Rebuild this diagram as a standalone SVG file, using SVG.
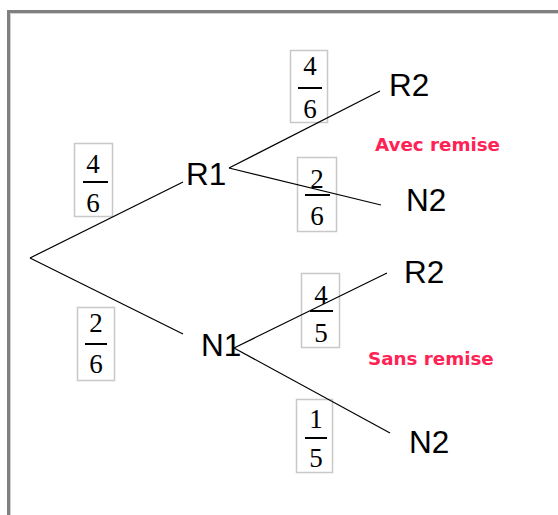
<svg xmlns="http://www.w3.org/2000/svg" width="558" height="515" viewBox="0 0 558 515">
<style>
.lbl{font-family:"Liberation Sans",Arial,sans-serif;font-size:31.5px;fill:#000}
.num{font-family:"Liberation Serif","Times New Roman",serif;font-size:27px;fill:#000;text-anchor:middle}
.box{fill:none;stroke:#c8c8c8;stroke-width:1.5}
.bar{stroke:#000;stroke-width:2}
.note{font-family:"DejaVu Sans",Verdana,sans-serif;font-weight:bold;font-size:18.3px;fill:#ff2255}
.edge{stroke:#000;stroke-width:1.2;fill:none}
</style>
<rect width="558" height="515" fill="#fff"/>
<g id="frame">
<rect x="7" y="10" width="551" height="3" fill="#808080"/>
<rect x="7" y="10" width="3" height="505" fill="#808080"/>
<rect x="10" y="13" width="548" height="1" fill="#d0d0d0"/>
<rect x="10" y="13" width="1" height="502" fill="#d0d0d0"/>
</g>
<g id="p-R1">
<rect class="box" x="74.5" y="143.5" width="38" height="73"/>
<text class="num" x="93" y="173">4</text>
<line class="bar" x1="83" y1="182" x2="108" y2="182"/>
<text class="num" x="93" y="212">6</text>
</g>
<g id="p-N1">
<rect class="box" x="77.5" y="307.5" width="37" height="73"/>
<text class="num" x="96" y="332">2</text>
<line class="bar" x1="85" y1="344" x2="107" y2="344"/>
<text class="num" x="96" y="373">6</text>
</g>
<g id="p-R1R2">
<rect class="box" x="290.5" y="50.5" width="37" height="72"/>
<text class="num" x="310" y="75">4</text>
<line class="bar" x1="298" y1="88" x2="322" y2="88"/>
<text class="num" x="310" y="118">6</text>
</g>
<g id="p-R1N2">
<rect class="box" x="297.5" y="157.5" width="39" height="74"/>
<text class="num" x="317" y="188">2</text>
<line class="bar" x1="305" y1="195" x2="330" y2="195"/>
<text class="num" x="317" y="225">6</text>
</g>
<g id="p-N1R2">
<rect class="box" x="301.5" y="273.5" width="38" height="74"/>
<text class="num" x="321" y="304">4</text>
<line class="bar" x1="310" y1="311" x2="333" y2="311"/>
<text class="num" x="321" y="342">5</text>
</g>
<g id="p-N1N2">
<rect class="box" x="296.5" y="399.5" width="36" height="73"/>
<text class="num" x="316" y="428">1</text>
<line class="bar" x1="305" y1="438" x2="327" y2="438"/>
<text class="num" x="316" y="467">5</text>
</g>
<g id="connectors">
<line class="edge" x1="30" y1="258" x2="183" y2="182"/>
<line class="edge" x1="30" y1="258" x2="183" y2="334"/>
<line class="edge" x1="229" y1="168" x2="380" y2="91"/>
<line class="edge" x1="229" y1="168" x2="381" y2="205"/>
<line class="edge" x1="234" y1="348" x2="387" y2="273"/>
<line class="edge" x1="234" y1="348" x2="390" y2="433"/>
</g>
<g id="R1"><text class="lbl" x="186" y="185">R1</text></g>
<g id="N1"><text class="lbl" x="201" y="356">N1</text></g>
<g id="R2a"><text class="lbl" x="389" y="96">R2</text></g>
<g id="N2a"><text class="lbl" x="406" y="211">N2</text></g>
<g id="R2b"><text class="lbl" x="404" y="283">R2</text></g>
<g id="N2b"><text class="lbl" x="409" y="453">N2</text></g>
<g id="avec"><text class="note" x="375" y="151">Avec remise</text></g>
<g id="sans"><text class="note" x="368" y="365">Sans remise</text></g>
</svg>
